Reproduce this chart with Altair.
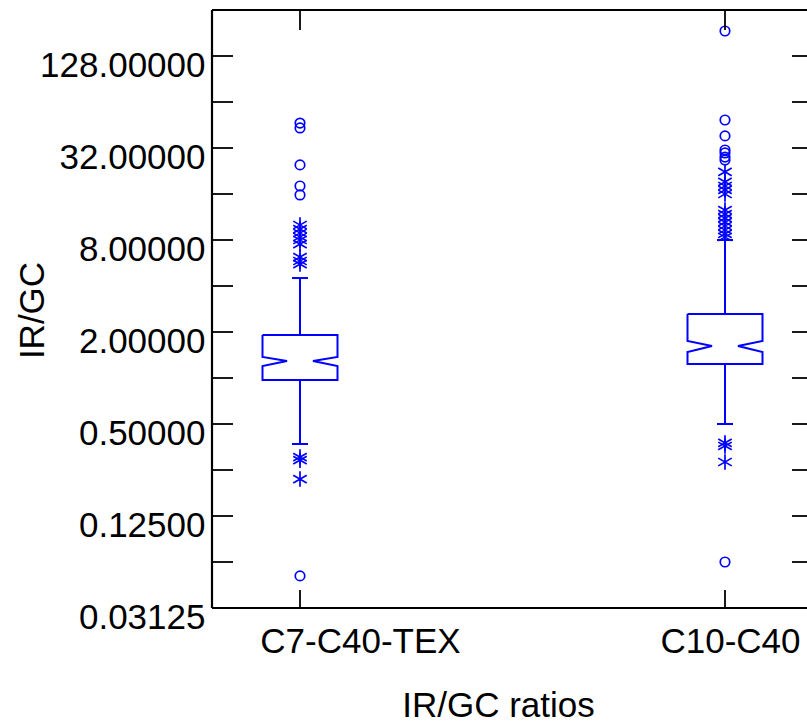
import altair as alt
import pandas as pd

# ---------------- data ----------------
categories = ["C7-C40-TEX", "C10-C40"]
cat_pos = [1, 2]
q1 = [0.970, 1.235]
median = [1.292, 1.620]
q3 = [1.911, 2.623]
notch_lo = [1.198, 1.480]
notch_hi = [1.372, 1.746]
whisker_lo = [0.370, 0.500]
whisker_hi = [4.51, 8.00]

# outside points (asterisks) and far-outside points (circles)
outside_c7 = [10.03, 9.44, 8.89, 8.37, 8.00, 7.53, 6.19, 5.83, 5.57, 0.304, 0.290, 0.218]
far_c7 = [46.6, 43.3, 24.8, 18.05, 15.77, 0.0507]
outside_c10 = [22.3, 19.2, 18.05, 17.0, 16.0, 12.57, 11.83, 11.14, 10.49, 9.88,
               9.30, 8.76, 8.37, 0.376, 0.359, 0.282]
far_c10 = [186.6, 48.8, 38.4, 31.06, 29.7, 27.9, 26.7, 0.0625]

y_major = [0.03125, 0.125, 0.5, 2, 8, 32, 128]
y_minor = [0.0625, 0.25, 1, 4, 16, 64]

# ---------------- layout constants ----------------
W, H = 595, 598
PX_PER_UNIT = 425.0
X_LO = 1 - 88 / PX_PER_UNIT
X_HI = 1 + (W - 88) / PX_PER_UNIT
BOX_HALF = 37.5 / PX_PER_UNIT
NOTCH_HALF = 13 / PX_PER_UNIT
CAP_HALF = 8 / PX_PER_UNIT
BLUE = "#0000FF"
FONT = "Liberation Sans"
FS = 35

xs = alt.Scale(domain=[X_LO, X_HI], nice=False, zero=False)
ys = alt.Scale(type="log", base=2, domain=[0.03125, 256], nice=False, zero=False)

# ---------------- tables ----------------
rows = []
for i, c in enumerate(cat_pos):
    pts = [(-BOX_HALF, q3[i]), (BOX_HALF, q3[i]), (BOX_HALF, notch_hi[i]),
           (NOTCH_HALF, median[i]), (BOX_HALF, notch_lo[i]), (BOX_HALF, q1[i]),
           (-BOX_HALF, q1[i]), (-BOX_HALF, notch_lo[i]), (-NOTCH_HALF, median[i]),
           (-BOX_HALF, notch_hi[i]), (-BOX_HALF, q3[i])]
    for k, (dx, yv) in enumerate(pts):
        rows.append({"box": categories[i], "seq": k, "x": c + dx, "y": yv})
box_df = pd.DataFrame(rows)

whisk_df = pd.DataFrame(
    [{"x": c, "y": q3[i], "y2": whisker_hi[i]} for i, c in enumerate(cat_pos)]
    + [{"x": c, "y": whisker_lo[i], "y2": q1[i]} for i, c in enumerate(cat_pos)]
)
cap_df = pd.DataFrame(
    [{"x": c - CAP_HALF, "x2": c + CAP_HALF, "y": whisker_hi[i]} for i, c in enumerate(cat_pos)]
    + [{"x": c - CAP_HALF, "x2": c + CAP_HALF, "y": whisker_lo[i]} for i, c in enumerate(cat_pos)]
)
star_df = pd.DataFrame(
    [{"x": cat_pos[0], "y": v} for v in outside_c7] + [{"x": cat_pos[1], "y": v} for v in outside_c10]
)
circ_df = pd.DataFrame(
    [{"x": cat_pos[0], "y": v} for v in far_c7] + [{"x": cat_pos[1], "y": v} for v in far_c10]
)
ytick_df = pd.DataFrame({"y": sorted(y_major[1:] + y_minor)})
xtick_df = pd.DataFrame({"x": cat_pos})
one_df = pd.DataFrame({"a": [0]})

label_expr = "datum.value == %d ? '%s' : '%s'" % (cat_pos[0], categories[0], categories[1])

x_axis = alt.Axis(
    values=cat_pos, labelExpr=label_expr, title="IR/GC ratios",
    domain=False, ticks=False, tickSize=0, grid=False,
    labelFont=FONT, labelFontSize=FS, labelColor="black", labelLimit=0,
    labelBaseline="alphabetic", labelPadding=44,
    labelOffset=alt.ExprRef(expr="datum.value == 1 ? 60 : 5"),
    labelFlush=False, labelOverlap=False,
    titleFont=FONT, titleFontSize=FS, titleFontWeight="normal", titleColor="black",
    titleX=286, titleY=108, titleBaseline="alphabetic", titleAlign="center",
)
y_axis = alt.Axis(
    values=y_major, format=".5f", title="IR/GC",
    domain=False, ticks=False, tickSize=0, grid=False,
    labelFont=FONT, labelFontSize=FS, labelColor="black", labelLimit=0,
    labelBaseline="alphabetic", labelOffset=20, labelPadding=7, labelOverlap=False,
    titleFont=FONT, titleFontSize=FS, titleFontWeight="normal", titleColor="black",
    titleX=-169, titleY=300, titleAngle=270, titleAlign="center", titleBaseline="alphabetic",
)


def X(field="x"):
    return alt.X(f"{field}:Q", scale=xs, axis=x_axis)


def Y(field="y"):
    return alt.Y(f"{field}:Q", scale=ys, axis=y_axis)


boxes = alt.Chart(box_df).mark_line(color=BLUE, strokeWidth=2, strokeJoin="miter").encode(
    x=X(), y=Y(), detail="box:N", order="seq:Q",
)
whiskers = alt.Chart(whisk_df).mark_rule(color=BLUE, strokeWidth=2).encode(
    x=X(), y=Y(), y2="y2:Q",
)
caps = alt.Chart(cap_df).mark_rule(color=BLUE, strokeWidth=2).encode(
    x=X(), x2="x2:Q", y=Y(),
)
stars = alt.Chart(star_df).mark_point(
    shape="M0,-1L0,1M-0.87,-0.5L0.87,0.5M-0.87,0.5L0.87,-0.5",
    size=240, color=BLUE, strokeWidth=1.7, filled=False, opacity=1,
).encode(x=X(), y=Y())
circles = alt.Chart(circ_df).mark_point(
    shape="circle", size=90, color=BLUE, strokeWidth=1.7, filled=False, opacity=1,
).encode(x=X(), y=Y())

ytick_l = alt.Chart(ytick_df).mark_rule(color="black", strokeWidth=1.8).encode(
    y=Y(), x=alt.value(0), x2=alt.value(21)
)
ytick_r = alt.Chart(ytick_df).mark_rule(color="black", strokeWidth=1.8).encode(
    y=Y(), x=alt.value(W - 15), x2=alt.value(W)
)
xtick_b = alt.Chart(xtick_df).mark_rule(color="black", strokeWidth=1.8).encode(
    x=X(), y=alt.value(H - 18), y2=alt.value(H)
)
xtick_t = alt.Chart(xtick_df).mark_rule(color="black", strokeWidth=1.8).encode(
    x=X(), y=alt.value(0), y2=alt.value(20)
)
frame_top = alt.Chart(one_df).mark_rule(color="black", strokeWidth=2.2).encode(
    y=alt.value(0), x=alt.value(0), x2=alt.value(W)
)
frame_bot = alt.Chart(one_df).mark_rule(color="black", strokeWidth=2.2).encode(
    y=alt.value(H), x=alt.value(0), x2=alt.value(W)
)
frame_left = alt.Chart(one_df).mark_rule(color="black", strokeWidth=2.2).encode(
    x=alt.value(0), y=alt.value(0), y2=alt.value(H)
)

chart = alt.layer(
    boxes, whiskers, caps, stars, circles,
    ytick_l, ytick_r, xtick_b, xtick_t, frame_top, frame_bot, frame_left,
).properties(
    width=W, height=H,
    padding={"left": 212, "top": 10, "right": 0, "bottom": 114},
    autosize=alt.AutoSizeParams(type="none"),
    background="white",
).configure_view(stroke=None)

chart.save("out.html", embed_options={"renderer": "svg", "actions": False})
